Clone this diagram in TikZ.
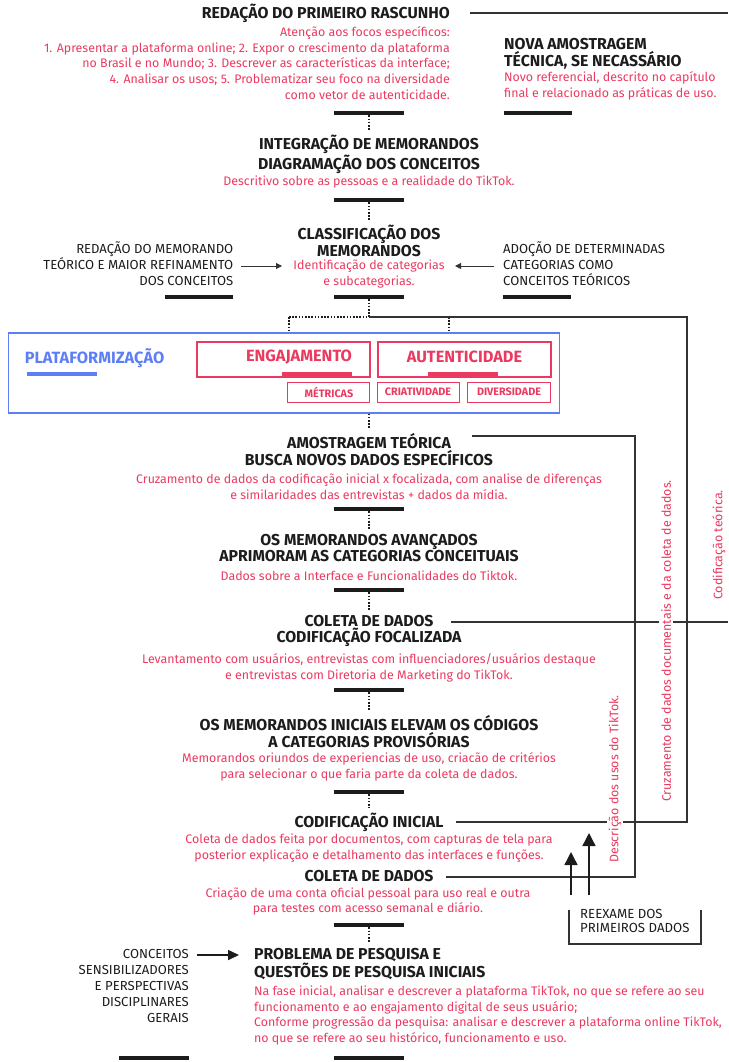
\documentclass[tikz,border=0pt]{standalone}
\usepackage{fontspec}
\setmainfont{Fira Sans}
\usetikzlibrary{arrows.meta,calc}
\definecolor{ink}{HTML}{1C1C1C}
\definecolor{accent}{HTML}{EA3A60}
\definecolor{pblue}{HTML}{5D7EF5}
\definecolor{lineg}{HTML}{333333}
\newcommand\hfont{\fontsize{15.8}{16.8}\selectfont\bfseries}
\newcommand\nfont{\fontsize{12.4}{15.8}\selectfont}
\newcommand\sfont{\fontsize{13.1}{16}\selectfont}
\newcommand\tgfont{\fontsize{10.8}{12}\selectfont\bfseries}
\newcommand\bigtag{\fontsize{16.3}{17}\selectfont\bfseries}
\tikzset{
  head/.style={font=\hfont, text=ink, inner sep=0pt, align=center},
  note/.style={font=\nfont, text=accent, inner sep=0pt, align=center},
  side/.style={font=\sfont, text=ink, inner sep=0pt},
  bar/.style={fill=ink, minimum width=70pt, minimum height=4.5pt, inner sep=0pt, draw=none},
  dots/.style={draw=ink, line width=1.3pt, dash pattern=on 1.6pt off 1.6pt},
  conn/.style={draw=lineg, line width=1.2pt},
  rbox/.style={draw=accent, line width=1.5pt, inner sep=0pt},
  tagtext/.style={font=\tgfont, text=accent, inner sep=0pt},
  vlabel/.style={font=\nfont, text=accent, rotate=90, fill=white, inner sep=2pt},
}
\begin{document}
\begin{tikzpicture}[x=1pt,y=-1pt]
\useasboundingbox (0,0) rectangle (728,1062);
% ---- top ----
\node[head, anchor=east] (t1) at (450,13) {REDAÇÃO DO PRIMEIRO RASCUNHO};
\coordinate (e1) at (728,13);
\draw[conn] ([xshift=20pt]t1.east) -- (e1);
\node[note, anchor=east, align=right] (n1) at (450,63) {Atenção aos focos específicos:\\1. Apresentar a plataforma online; 2. Expor o crescimento da plataforma\\no Brasil e no Mundo; 3. Descrever as características da interface;\\4. Analisar os usos; 5. Problematizar seu foco na diversidade\\como vetor de autenticidade.};
\node[bar] (b1) at (369,113) {};
\node[head, anchor=west, align=left] (t2) at (504,54) {NOVA AMOSTRAGEM\\TÉCNICA, SE NECASSÁRIO};
\node[note, anchor=west, align=left] (n2) at (504,85.5) {Novo referencial, descrito no capítulo\\final e relacionado as práticas de uso.};
\node[bar, minimum width=68pt] (b2) at (538,113) {};
% ---- integração ----
\node[head] (t3) at (369,154.5) {INTEGRAÇÃO DE MEMORANDOS\\DIAGRAMAÇÃO DOS CONCEITOS};
\node[note] (n3) at (369,182) {Descritivo sobre as pessoas e a realidade do TikTok.};
\draw[dots] (b1.south) -- ([yshift=4pt]b1.south |- t3.north);
\node[bar] (b3) at (369,200) {};
% ---- classificação ----
\node[head] (t4) at (369,240.5) {CLASSIFICAÇÃO DOS\\MEMORANDOS};
\draw[dots] (b3.south) -- ([yshift=4pt]b3.south |- t4.north);
\node[note] (n4) at (369,274) {Identificação de categorias\\e subcategorias.};
\node[side, anchor=east, align=right] (s1) at (233.5,264) {REDAÇÃO DO MEMORANDO\\TEÓRICO E MAIOR REFINAMENTO\\DOS CONCEITOS};
\node[side, anchor=west, align=left] (s2) at (503,264) {ADOÇÃO DE DETERMINADAS\\CATEGORIAS COMO\\CONCEITOS TEÓRICOS};
\coordinate (a1s) at (241,266);
\coordinate (a1e) at (282,266);
\coordinate (a2s) at (494,266);
\coordinate (a2e) at (455,266);
\draw[conn, line width=1pt, -{Triangle[width=6pt,length=6pt]}] (a1s) -- (a1e);
\draw[conn, line width=1pt, -{Triangle[width=6pt,length=6pt]}] (a2s) -- (a2e);
\node[bar, minimum width=68pt] (b4l) at (199,297) {};
\node[bar] (b4) at (369,297) {};
\node[bar, minimum width=68pt] (b4r) at (537,297) {};
% ---- junction ----
\coordinate (J) at (369,317);
\coordinate (JL) at (289,317);
\coordinate (JR) at (449,317);
\coordinate (JE) at (687,317);
\draw[dots] (b4.south) -- (J);
\draw[dots] (JL) -- (J);
% ---- plataformização box ----
\node[draw=pblue, line width=1.6pt, minimum width=551pt, minimum height=80pt, inner sep=0pt, anchor=north west] (pb) at (7.5,332) {};
\node[font=\bigtag, text=pblue, inner sep=0pt] (pt) at (94.5,358) {PLATAFORMIZAÇÃO};
\node[fill=pblue, minimum width=70pt, minimum height=4pt, inner sep=0pt] (pbar) at (62,373.5) {};
\node[rbox, minimum width=173pt, minimum height=35pt, anchor=north west] (eng) at (196,341) {};
\node[rbox, minimum width=173pt, minimum height=35pt, anchor=north west] (aut) at (377,341) {};
\node[font=\bigtag, text=accent, inner sep=0pt] (engt) at (299,357) {ENGAJAMENTO};
\node[font=\bigtag, text=accent, inner sep=0pt] (autt) at (464.5,357) {AUTENTICIDADE};
\node[fill=accent, minimum width=70pt, minimum height=4pt, inner sep=0pt, anchor=south] (engbar) at (317,376) {};
\node[fill=accent, minimum width=70pt, minimum height=4pt, inner sep=0pt, anchor=south] (autbar) at (463,376) {};
\node[rbox, line width=1.2pt, minimum width=82pt, minimum height=20pt, anchor=north west] (met) at (287,382) {};
\node[rbox, line width=1.2pt, minimum width=82pt, minimum height=20pt, anchor=north west] (cri) at (377,382) {};
\node[rbox, line width=1.2pt, minimum width=83pt, minimum height=20pt, anchor=north west] (div) at (467,382) {};
\node[tagtext] (mett) at (329,392) {MÉTRICAS};
\node[tagtext] (crit) at (418,392) {CRIATIVIDADE};
\node[tagtext] (divt) at (509,392) {DIVERSIDADE};
\draw[dots] (JL) -- (JL |- pb.north);
\draw[dots] (JR) -- (JR |- pb.north);
% ---- amostragem ----
\node[head] (t5) at (369,449.5) {AMOSTRAGEM TEÓRICA\\BUSCA NOVOS DADOS ESPECÍFICOS};
\draw[dots] (pb.south -| J) -- ([yshift=4pt]J |- t5.north);
\node[note] (n5) at (369,486.5) {Cruzamento de dados da codificação inicial x focalizada, com analise de diferenças\\e similaridades das entrevistas + dados da mídia.};
\node[bar] (b5) at (369,509) {};
% ---- memorandos avançados ----
\node[head] (t6) at (369,548) {OS MEMORANDOS AVANÇADOS\\APRIMORAM AS CATEGORIAS CONCEITUAIS};
\draw[dots] (b5.south) -- ([yshift=4pt]b5.south |- t6.north);
\node[note] (n6) at (369,576) {Dados sobre a Interface e Funcionalidades do Tiktok.};
\node[bar] (b6) at (369,590) {};
% ---- coleta focalizada ----
\node[head] (t7) at (369,631) {COLETA DE DADOS\\CODIFICAÇÃO FOCALIZADA};
\draw[dots] (b6.south) -- ([yshift=4pt]b6.south |- t7.north);
\node[note] (n7) at (369,667.5) {Levantamento com usuários, entrevistas com influenciadores/usuários destaque\\e entrevistas com Diretoria de Marketing do TikTok.};
\node[bar] (b7) at (369,690) {};
% ---- memorandos iniciais ----
\node[head] (t8) at (369,731.5) {OS MEMORANDOS INICIAIS ELEVAM OS CÓDIGOS\\A CATEGORIAS PROVISÓRIAS};
\draw[dots] (b7.south) -- ([yshift=4pt]b7.south |- t8.north);
\node[note] (n8) at (369,767) {Memorandos oriundos de experiencias de uso, criacão de critérios\\para selecionar o que faria parte da coleta de dados.};
\node[bar] (b8) at (369,792) {};
% ---- codificação inicial ----
\node[head] (t9) at (369,822) {CODIFICAÇÃO INICIAL};
\draw[dots] (b8.south) -- ([yshift=4pt]b8.south |- t9.north);
\node[note] (n9) at (369,848) {Coleta de dados feita por documentos, com capturas de tela para\\posterior explicação e detalhamento das interfaces e funções.};
% ---- coleta de dados ----
\node[head] (t10) at (369,876) {COLETA DE DADOS};
\node[note] (n10) at (368,901.5) {Criação de uma conta oficial pessoal para uso real e outra\\para testes com acesso semanal e diário.};
\node[bar] (b10) at (369,925) {};
% ---- problema ----
\node[head, anchor=west, align=left] (t11) at (254,964) {PROBLEMA DE PESQUISA E\\QUESTÕES DE PESQUISA INICIAIS};
\draw[dots] (b10.south) -- (b10.south |- 0,942);
\node[note, anchor=west, align=left] (n11) at (254,1015.5) {Na fase inicial, analisar e descrever a plataforma TikTok, no que se refere ao seu\\funcionamento e ao engajamento digital de seus usuário;\\Conforme progressão da pesquisa: analisar e descrever a plataforma online TikTok,\\no que se refere ao seu histórico, funcionamento e uso.};
\node[side, anchor=east, align=right] (s3) at (189,986) {CONCEITOS\\SENSIBILIZADORES\\E PERSPECTIVAS\\DISCIPLINARES\\GERAIS};
\coordinate (a3s) at (197,955);
\coordinate (a3e) at (239,955);
\draw[ink, line width=1.6pt, -{Triangle[width=10pt,length=11pt]}] (a3s) -- (a3e);
\node[bar] (b11l) at (154,1058) {};
\node[bar] (b11) at (369,1058) {};
% ---- right-hand connectors ----
\coordinate (C1) at (687,822);
\coordinate (C2s) at (472,436);
\coordinate (C2t) at (635,436);
\coordinate (C2b) at (635,877);
\coordinate (C3s) at (451,622);
\coordinate (C3) at (728,622);
\draw[conn] (J) -- (JE) -- (C1) -- ([xshift=12pt]t9.east);
\draw[conn] (C2s) -- (C2t) -- (C2b) -- ([xshift=12pt]t10.east |- C2b);
\draw[conn] (C3s) -- (C3);
\node[vlabel] (v1) at (719,545) {Codificação teórica.};
\node[vlabel] (v2) at (666,641) {Cruzamento de dados documentais e da coleta de dados.};
\node[vlabel] (v3) at (615,779) {Descrição dos usos do TikTok.};
% ---- reexame ----
\node[side, font=\fontsize{13.2}{14}\selectfont, anchor=west, align=left] (rx) at (580,921) {REEXAME DOS\\PRIMEIROS DADOS};
\draw[lineg, line width=1.3pt] (569,910) -- (569,944) -- (701,944) -- (701,910);
\coordinate (r1) at (571,895);
\coordinate (r2) at (589,895);
\draw[ink, line width=1.4pt, -{Triangle[width=13pt,length=13pt]}] (r1) -- (571,852);
\draw[ink, line width=1.4pt, -{Triangle[width=13pt,length=13pt]}] (r2) -- (589,833);
\end{tikzpicture}
\end{document}
